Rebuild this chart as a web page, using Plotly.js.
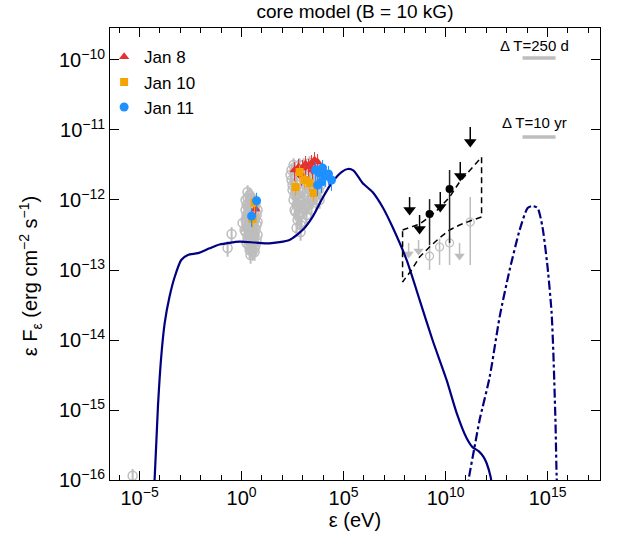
<!DOCTYPE html>
<html><head><meta charset="utf-8">
<script src="https://cdn.plot.ly/plotly-3.0.1.min.js"></script>
<style>html,body{margin:0;padding:0;background:#fff}#chart{width:625px;height:544px}</style>
</head><body><div id="chart"></div>
<script>
// ---- model curves (energy in eV, flux in erg cm^-2 s^-1)
const modelE = [4.47e-5,5.5e-5,7.94e-5,1.15e-4,1.70e-4,2.95e-4,5.25e-4,1.10e-3,2.34e-3,7.24e-3,2.69e-2,8.32e-2,0.794,4.37,23.4,224,977,3.02e3,9.33e3,2.88e4,7.94e4,1.58e5,3.09e5,8.51e5,2.63e6,8.13e6,2.51e7,1.23e8,5.37e8,2.29e9,1.12e10,3.47e10,1.07e11,2.09e11,4.17e11,7.24e11,1.02e12,1.62e12,2.0e12];
const modelF = [5.0e-17,1.07e-16,1.12e-15,5.75e-15,1.74e-14,4.17e-14,7.94e-14,1.39e-13,1.64e-13,1.74e-13,2.04e-13,2.31e-13,2.54e-13,2.47e-13,2.40e-13,2.69e-13,3.72e-13,5.75e-13,1.07e-12,1.82e-12,2.51e-12,2.77e-12,2.63e-12,1.75e-12,1.30e-12,7.94e-13,4.11e-13,1.39e-13,3.72e-14,1.0e-14,2.69e-15,9.12e-16,3.98e-16,2.95e-16,2.59e-16,2.14e-16,1.75e-16,1.10e-16,7.2e-17];
const hadE = [1.20e11,1.35e11,2.63e11,4.68e11,1.45e12,4.47e12,1.38e13,4.27e13,1.05e14,1.82e14,3.24e14,5.62e14,1.0e15,1.58e15,1.95e15,2.45e15,2.75e15,2.95e15];
const hadF = [6.2e-17,1.0e-16,2.95e-16,7.24e-16,2.95e-15,2.14e-14,1.0e-13,3.72e-13,7.69e-13,8.2e-13,7.69e-13,4.11e-13,1.10e-13,2.43e-14,5.71e-15,6.52e-16,1.26e-16,7.2e-17];

// ---- archival (grey) data
const greyE = [0.324,0.206,1.12,1.40,1.97,1.97,1.76,2.47,3.46,4.34,
  1.76,1.76,1.76,2.20,2.20,2.20,2.76,2.76,2.76,2.76,3.46,3.46,3.46,3.46,4.34,4.34,4.34,4.34,5.44,5.44,5.44,2.20,2.76,4.57e-6,
  1.57,1.57,1.57,1.57,1.97,1.97,1.97,1.97,2.47,2.47,2.47,2.47,2.47,3.09,3.09,3.09,3.09,3.09,3.87,3.87,3.87,3.87,4.86,4.86,4.86,4.86,6.09,6.09,6.09,
  282,282,316,354,396,444,497,556,622,697,556,873,780,977,1094,1225,1371,1535,1718,1923,2153,2410,2698,3020,3381,3785,4237,5309,5957,6668,354,697,1225,497,780,444,
  252,316,396,497,622,780,977,1225,1535,1923,2410,3020,3785,4745,4745,5957,7464,1094,2153,444,697,1371,2698];
const greyF = [3.27e-13,2.06e-13,4.69e-13,3.73e-13,1.30e-12,1.07e-12,2.43e-13,1.93e-13,1.81e-13,2.06e-13,
  8.49e-13,6.11e-13,4.39e-13,7.20e-13,5.18e-13,3.16e-13,1.0e-12,6.74e-13,4.39e-13,2.68e-13,8.49e-13,6.11e-13,3.73e-13,2.28e-13,7.20e-13,5.18e-13,3.16e-13,1.81e-13,6.11e-13,4.39e-13,2.68e-13,2.28e-13,1.64e-13,1.15e-16,
  1.0e-12,7.20e-13,5.18e-13,3.49e-13,8.49e-13,6.11e-13,3.98e-13,2.87e-13,1.18e-12,8.49e-13,5.53e-13,3.73e-13,2.51e-13,1.07e-12,7.20e-13,4.85e-13,3.16e-13,2.06e-13,1.0e-12,6.74e-13,4.39e-13,2.87e-13,8.49e-13,5.53e-13,3.73e-13,2.28e-13,7.20e-13,4.85e-13,3.16e-13,
  2.68e-12,1.93e-12,1.39e-12,1.0e-12,7.20e-13,2.28e-12,1.64e-12,1.18e-12,8.49e-13,6.11e-13,5.18e-13,4.85e-13,1.93e-12,1.39e-12,1.0e-12,7.20e-13,2.28e-12,1.64e-12,1.18e-12,8.49e-13,2.68e-12,1.93e-12,1.39e-12,1.0e-12,2.68e-12,1.64e-12,1.18e-12,2.28e-12,1.39e-12,1.0e-12,3.16e-12,3.16e-12,2.87e-12,3.98e-13,3.49e-13,6.74e-13,
  2.28e-12,1.64e-12,1.18e-12,8.49e-13,6.11e-13,4.39e-13,8.49e-13,1.18e-12,6.11e-13,1.64e-12,1.0e-12,1.64e-12,2.28e-12,1.0e-12,1.93e-12,2.68e-12,1.64e-12,3.16e-12,3.38e-12,1.39e-12,1.0e-12,8.49e-13,7.20e-13];

// ---- flare epochs
const jan8E = [4.86,396,622,977,1371,1923,2698,3785,5309,873,3020];
const jan8F = [7.41e-13,2.68e-12,2.96e-12,2.87e-12,3.27e-12,2.96e-12,3.38e-12,3.73e-12,3.49e-12,2.28e-12,2.68e-12];
const jan10E = [4.34,3.46,444,1225,2153,3381,697];
const jan10F = [9.12e-13,5.37e-13,1.53e-12,1.93e-12,1.75e-12,1.26e-12,2.51e-12];
const jan11E = [5.44,3.09,4237,6668,9333,1.32e4,1.82e4,2.57e4,8318,5309];
const jan11F = [9.77e-13,5.89e-13,2.68e-12,2.43e-12,2.87e-12,2.20e-12,2.35e-12,1.93e-12,1.81e-12,1.64e-12];

// ---- gamma-ray: upper limits and detections
const ulE = [1.62e11,5.25e10,5.50e9,1.72e8,5.31e8];
const ulF = [6.74e-12,2.20e-12,7.94e-13,7.20e-13,3.85e-13];
const ulTop = [1.10e-11,3.49e-12,1.30e-12,1.10e-12,6.11e-13];
const ulGreyE = [1.54e8,4.74e8,4.85e10];
const ulGreyF = [1.69e-13,1.87e-13,1.58e-13];
const ulGreyTop = [2.43e-13,2.68e-13,2.43e-13];
const detE = [1.57e10,1.64e9];
const detF = [1.44e-12,6.31e-13];
const detHi = [2.68e-12,1.03e-12];
const detLo = [2.43e-13,2.28e-13];
const detGreyE = [1.64e9,5.08e9,1.57e10,1.62e11];
const detGreyF = [1.58e-13,2.13e-13,2.43e-13,4.85e-13];
const detGreyHi = [2.28e-13,2.80e-13,3.06e-13,1.10e-12];
const detGreyLo = [1.0e-13,1.18e-13,1.18e-13,1.18e-13];
const bowE = [7.80e7,5.31e8,1.64e9,5.08e9,1.57e10,4.85e10,5.82e11,5.82e11,2.11e11,4.85e10,1.57e10,5.08e9,1.64e9,5.31e8,2.15e8,7.80e7,7.80e7];
const bowF = [3.73e-13,4.54e-13,5.71e-13,7.69e-13,1.10e-12,1.81e-12,4.11e-12,5.71e-13,5.18e-13,4.39e-13,3.73e-13,2.87e-13,2.13e-13,1.53e-13,1.0e-13,6.74e-14,3.73e-13];

// ---- sensitivity bars
const sensE = [5.93e13,2.46e15];
const sens250d = [1.07e-10,1.07e-10];
const sens10yr = [7.94e-12,7.94e-12];
const sensLabels = ['Δ T=250 d','Δ T=10 yr'];

// ---- ticks
const xTickVals = [1e-5,1,1e5,1e10,1e15];
const xTickText = ['10<sup>−5</sup>','10<sup>0</sup>','10<sup>5</sup>','10<sup>10</sup>','10<sup>15</sup>'];
const xMinorVals = [1e-6,1e-4,1e-3,1e-2,1e-1,10,100,1e3,1e4,1e6,1e7,1e8,1e9,1e11,1e12,1e13,1e14,1e16,1e17];
const yTickVals = [1e-16,1e-15,1e-14,1e-13,1e-12,1e-11,1e-10];
const yTickText = ['10<sup>−16</sup>','10<sup>−15</sup>','10<sup>−14</sup>','10<sup>−13</sup>','10<sup>−12</sup>','10<sup>−11</sup>','10<sup>−10</sup>'];

const GREY = '#bdbdbd', NAVY = '#000080';
const diff = (a,b) => a.map((v,i)=>v-b[i]);
const zeros = n => new Array(n).fill(0);

const traces = [
  {x:greyE, y:greyF, mode:'markers', showlegend:false, hoverinfo:'skip',
   marker:{symbol:'circle-open', size:9, color:GREY, line:{width:1.5}},
   error_y:{type:'percent', value:25, color:GREY, thickness:2, width:0}},
  {x:detGreyE, y:detGreyF, mode:'markers', showlegend:false,
   marker:{symbol:'circle-open', size:8, color:GREY, line:{width:1.2}},
   error_y:{type:'data', symmetric:false, array:diff(detGreyHi,detGreyF), arrayminus:diff(detGreyF,detGreyLo), color:GREY, thickness:1.5, width:0}},
  {x:ulGreyE, y:ulGreyF, mode:'markers', showlegend:false,
   marker:{symbol:'triangle-down', size:9, color:GREY},
   error_y:{type:'data', symmetric:false, array:diff(ulGreyTop,ulGreyF), arrayminus:zeros(3), color:GREY, thickness:1.5, width:0}},
  {x:modelE, y:modelF, mode:'lines', showlegend:false, line:{color:NAVY, width:2.2, shape:'spline', smoothing:0.6}},
  {x:hadE, y:hadF, mode:'lines', showlegend:false, line:{color:NAVY, width:2.2, dash:'dashdot', shape:'spline', smoothing:0.6}},
  {x:jan8E, y:jan8F, mode:'markers', name:'Jan 8', marker:{symbol:'triangle-up', size:9, color:'#e53131'},
   error_y:{type:'percent', value:30, color:'#e53131', thickness:1, width:0}},
  {x:jan10E, y:jan10F, mode:'markers', name:'Jan 10', marker:{symbol:'square', size:8, color:'#f5a300'},
   error_y:{type:'percent', value:25, color:'#f5a300', thickness:1, width:0}},
  {x:jan11E, y:jan11F, mode:'markers', name:'Jan 11', marker:{symbol:'circle', size:9, color:'#1e90ff'},
   error_y:{type:'percent', value:30, color:'#1e90ff', thickness:1, width:0}},
  {x:bowE, y:bowF, mode:'lines', showlegend:false, line:{color:'#000', width:1.5, dash:'6px,4px'}},
  {x:detE, y:detF, mode:'markers', showlegend:false, marker:{symbol:'circle', size:8, color:'#000'},
   error_y:{type:'data', symmetric:false, array:diff(detHi,detF), arrayminus:diff(detF,detLo), color:'#222', thickness:1.5, width:0}},
  {x:ulE, y:ulF, mode:'markers', showlegend:false, marker:{symbol:'triangle-down', size:11, color:'#000'},
   error_y:{type:'data', symmetric:false, array:diff(ulTop,ulF), arrayminus:zeros(5), color:'#000', thickness:1.5, width:0}},
  {x:sensE, y:sens250d, mode:'lines', showlegend:false, line:{color:GREY, width:3.5}},
  {x:sensE, y:sens10yr, mode:'lines', showlegend:false, line:{color:GREY, width:3.5}}
];

const axisCommon = {showline:true, linecolor:'#000', linewidth:1, mirror:'allticks', ticks:'inside',
  tickcolor:'#000', tickwidth:1, showgrid:false, zeroline:false, tickfont:{size:20}};

const layout = {
  width:625, height:544,
  margin:{l:110, r:25, t:28, b:64},
  paper_bgcolor:'#fff', plot_bgcolor:'#fff',
  font:{family:'Liberation Sans, Arial, Helvetica, sans-serif', color:'#000', size:18},
  title:{text:'core model (B = 10 kG)', font:{size:19}, x:0.5, xref:'paper', xanchor:'center', y:1-11/544, yanchor:'middle'},
  xaxis:Object.assign({}, axisCommon, {type:'log', range:[-6.45,17.57], ticklen:9,
    tickmode:'array', tickvals:xTickVals, ticktext:xTickText,
    minor:{tickmode:'array', tickvals:xMinorVals, ticklen:5, ticks:'inside', tickcolor:'#000', tickwidth:1, showgrid:false},
    title:{text:'ε (eV)', font:{size:20}, standoff:4}}),
  yaxis:Object.assign({}, axisCommon, {type:'log', range:[-16,-9.543], ticklen:9,
    tickmode:'array', tickvals:yTickVals, ticktext:yTickText}),
  showlegend:true,
  legend:{x:-0.012, xanchor:'left', y:0.975, yanchor:'top', bgcolor:'rgba(0,0,0,0)', font:{size:17}, itemwidth:30, tracegroupgap:0},
  annotations:[
    {text:'ε F<sub>ε</sub> (erg cm<sup>−2</sup> s<sup>−1</sup>)', textangle:-90, xref:'paper', yref:'paper',
     x:-0.162, y:0.45, xanchor:'center', yanchor:'middle', showarrow:false, font:{size:20}},
    {text:sensLabels[0], xref:'paper', yref:'paper', x:0.867, y:0.962, xanchor:'center', yanchor:'middle', showarrow:false, font:{size:15}},
    {text:sensLabels[1], xref:'paper', yref:'paper', x:0.867, y:0.790, xanchor:'center', yanchor:'middle', showarrow:false, font:{size:15}}
  ]
};

Plotly.newPlot('chart', traces, layout, {staticPlot:true, displayModeBar:false});
</script></body></html>
